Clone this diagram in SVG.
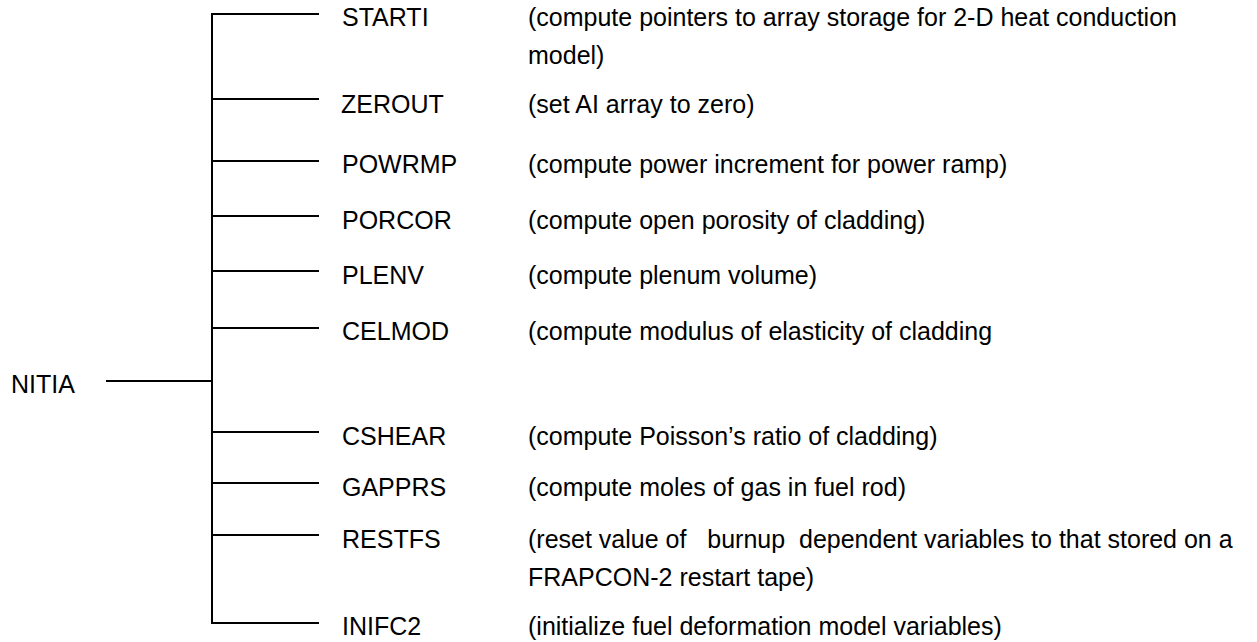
<svg xmlns="http://www.w3.org/2000/svg" width="1257" height="642" viewBox="0 0 1257 642">
<style>
text{font-family:"Liberation Sans",Arial,sans-serif;font-size:25px;fill:#000;white-space:pre}
.c line{stroke:#000;stroke-width:2;fill:none}
</style>
<rect width="1257" height="642" fill="#fff"/>
<g class="c" id="connectors">
<line x1="212" y1="13" x2="212" y2="624"/>
<line x1="106" y1="381" x2="212" y2="381"/>
<line x1="211" y1="14" x2="319" y2="14"/>
<line x1="211" y1="99" x2="319" y2="99"/>
<line x1="211" y1="161" x2="319" y2="161"/>
<line x1="211" y1="216" x2="319" y2="216"/>
<line x1="211" y1="271" x2="319" y2="271"/>
<line x1="211" y1="328" x2="319" y2="328"/>
<line x1="211" y1="432" x2="319" y2="432"/>
<line x1="211" y1="483" x2="319" y2="483"/>
<line x1="211" y1="535" x2="319" y2="535"/>
<line x1="211" y1="623" x2="319" y2="623"/>
</g>
<g id="NITIA"><text x="11" y="393">NITIA</text></g>
<g id="STARTI"><text x="342" y="26">STARTI</text>
<text x="528" y="26">(compute pointers to array storage for 2-D heat conduction</text>
<text x="528" y="64">model)</text></g>
<g id="ZEROUT"><text x="341" y="113">ZEROUT</text>
<text x="528" y="113">(set AI array to zero)</text></g>
<g id="POWRMP"><text x="342" y="173">POWRMP</text>
<text x="528" y="173">(compute power increment for power ramp)</text></g>
<g id="PORCOR"><text x="342" y="229">PORCOR</text>
<text x="528" y="229">(compute open porosity of cladding)</text></g>
<g id="PLENV"><text x="342" y="284">PLENV</text>
<text x="528" y="284">(compute plenum volume)</text></g>
<g id="CELMOD"><text x="342" y="340">CELMOD</text>
<text x="528" y="340">(compute modulus of elasticity of cladding</text></g>
<g id="CSHEAR"><text x="342" y="445">CSHEAR</text>
<text x="528" y="445">(compute Poisson’s ratio of cladding)</text></g>
<g id="GAPPRS"><text x="342" y="496">GAPPRS</text>
<text x="528" y="496">(compute moles of gas in fuel rod)</text></g>
<g id="RESTFS"><text x="342" y="548">RESTFS</text>
<text x="528" y="548">(reset value of   burnup  dependent variables to that stored on a</text>
<text x="528" y="586">FRAPCON-2 restart tape)</text></g>
<g id="INIFC2"><text x="342" y="635">INIFC2</text>
<text x="528" y="635">(initialize fuel deformation model variables)</text></g>
</svg>
